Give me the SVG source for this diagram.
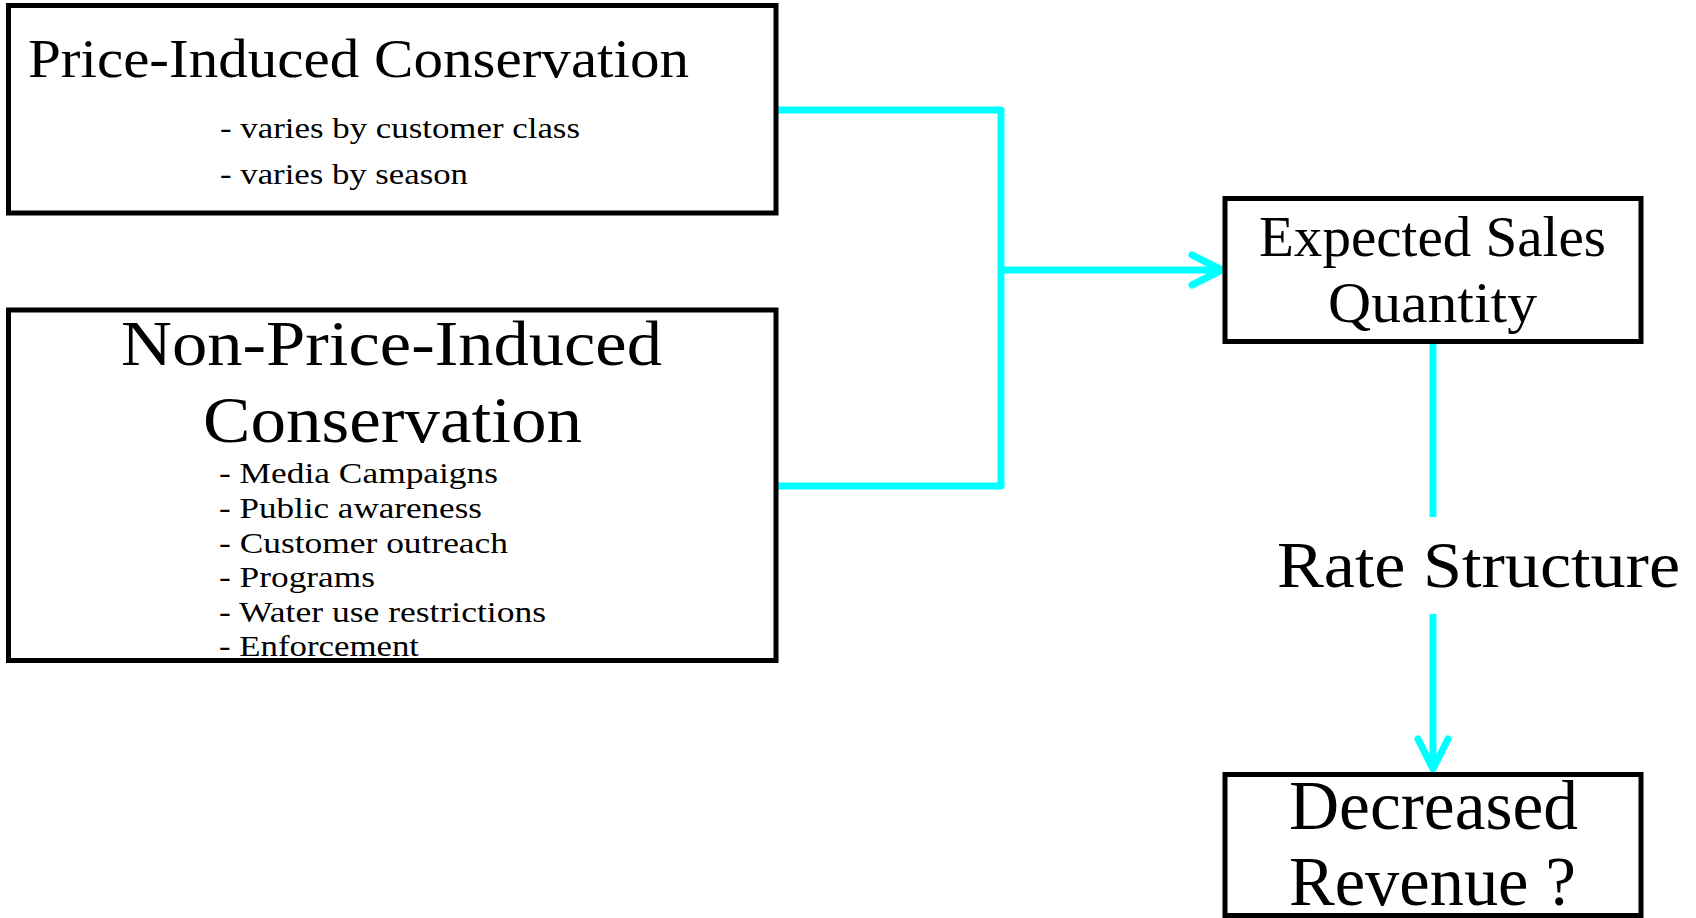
<svg xmlns="http://www.w3.org/2000/svg" width="1696" height="918" viewBox="0 0 1696 918">
<style>
.box{fill:#fff;stroke:#000;stroke-width:5}
.t{font-family:"Liberation Serif","Times New Roman",serif;fill:#000}
.c{fill:none;stroke:#00FFFF;stroke-width:7;stroke-linejoin:round}
</style>
<defs>
<marker id="arr" markerUnits="userSpaceOnUse" orient="auto" refX="0" refY="0" markerWidth="40" markerHeight="40" viewBox="-35 -20 40 40" overflow="visible">
<path d="M-30,-15 L0,0 L-30,15" fill="none" stroke="#00FFFF" stroke-width="7" stroke-linecap="round" stroke-linejoin="round"/>
</marker>
</defs>
<rect width="1696" height="918" fill="#fff"/>
<g id="connectors">
<path class="c" d="M776,110 H1001 V486 H776"/>
<path class="c" d="M1001,270 H1222" marker-end="url(#arr)"/>
<path class="c" d="M1433,343 V517"/>
<path class="c" d="M1433,614 V769" marker-end="url(#arr)"/>
</g>
<g id="price-induced">
<rect class="box" x="8.5" y="5.5" width="767.5" height="207.5"/>
<text class="t" x="28" y="77" font-size="54" textLength="661" lengthAdjust="spacingAndGlyphs">Price-Induced Conservation</text>
<text class="t" x="220" y="138" font-size="30" textLength="360" lengthAdjust="spacingAndGlyphs">- varies by customer class</text>
<text class="t" x="220" y="184" font-size="30" textLength="248" lengthAdjust="spacingAndGlyphs">- varies by season</text>
</g>
<g id="non-price-induced">
<rect class="box" x="8.5" y="310" width="767.5" height="350.5"/>
<text class="t" x="121" y="365" font-size="64" textLength="541" lengthAdjust="spacingAndGlyphs">Non-Price-Induced</text>
<text class="t" x="203" y="442" font-size="66" textLength="379" lengthAdjust="spacingAndGlyphs">Conservation</text>
<text class="t" x="219" y="483" font-size="29" textLength="279" lengthAdjust="spacingAndGlyphs">- Media Campaigns</text>
<text class="t" x="219" y="518" font-size="29" textLength="263" lengthAdjust="spacingAndGlyphs">- Public awareness</text>
<text class="t" x="219" y="553" font-size="29" textLength="289" lengthAdjust="spacingAndGlyphs">- Customer outreach</text>
<text class="t" x="219" y="587" font-size="29" textLength="156" lengthAdjust="spacingAndGlyphs">- Programs</text>
<text class="t" x="219" y="622" font-size="29" textLength="327" lengthAdjust="spacingAndGlyphs">- Water use restrictions</text>
<text class="t" x="219" y="656" font-size="29" textLength="200" lengthAdjust="spacingAndGlyphs">- Enforcement</text>
</g>
<g id="expected-sales">
<rect class="box" x="1225" y="198.5" width="416" height="143"/>
<text class="t" x="1259" y="256" font-size="56" textLength="347" lengthAdjust="spacingAndGlyphs">Expected Sales</text>
<text class="t" x="1328" y="322" font-size="56" textLength="209" lengthAdjust="spacingAndGlyphs">Quantity</text>
</g>
<g id="rate-structure">
<text class="t" x="1277" y="587" font-size="66" textLength="403" lengthAdjust="spacingAndGlyphs">Rate Structure</text>
</g>
<g id="decreased-revenue">
<rect class="box" x="1225" y="774.5" width="416" height="141"/>
<text class="t" x="1289" y="829" font-size="69" textLength="289" lengthAdjust="spacingAndGlyphs">Decreased</text>
<text class="t" x="1289" y="905" font-size="69" textLength="287" lengthAdjust="spacingAndGlyphs">Revenue ?</text>
</g>
</svg>
